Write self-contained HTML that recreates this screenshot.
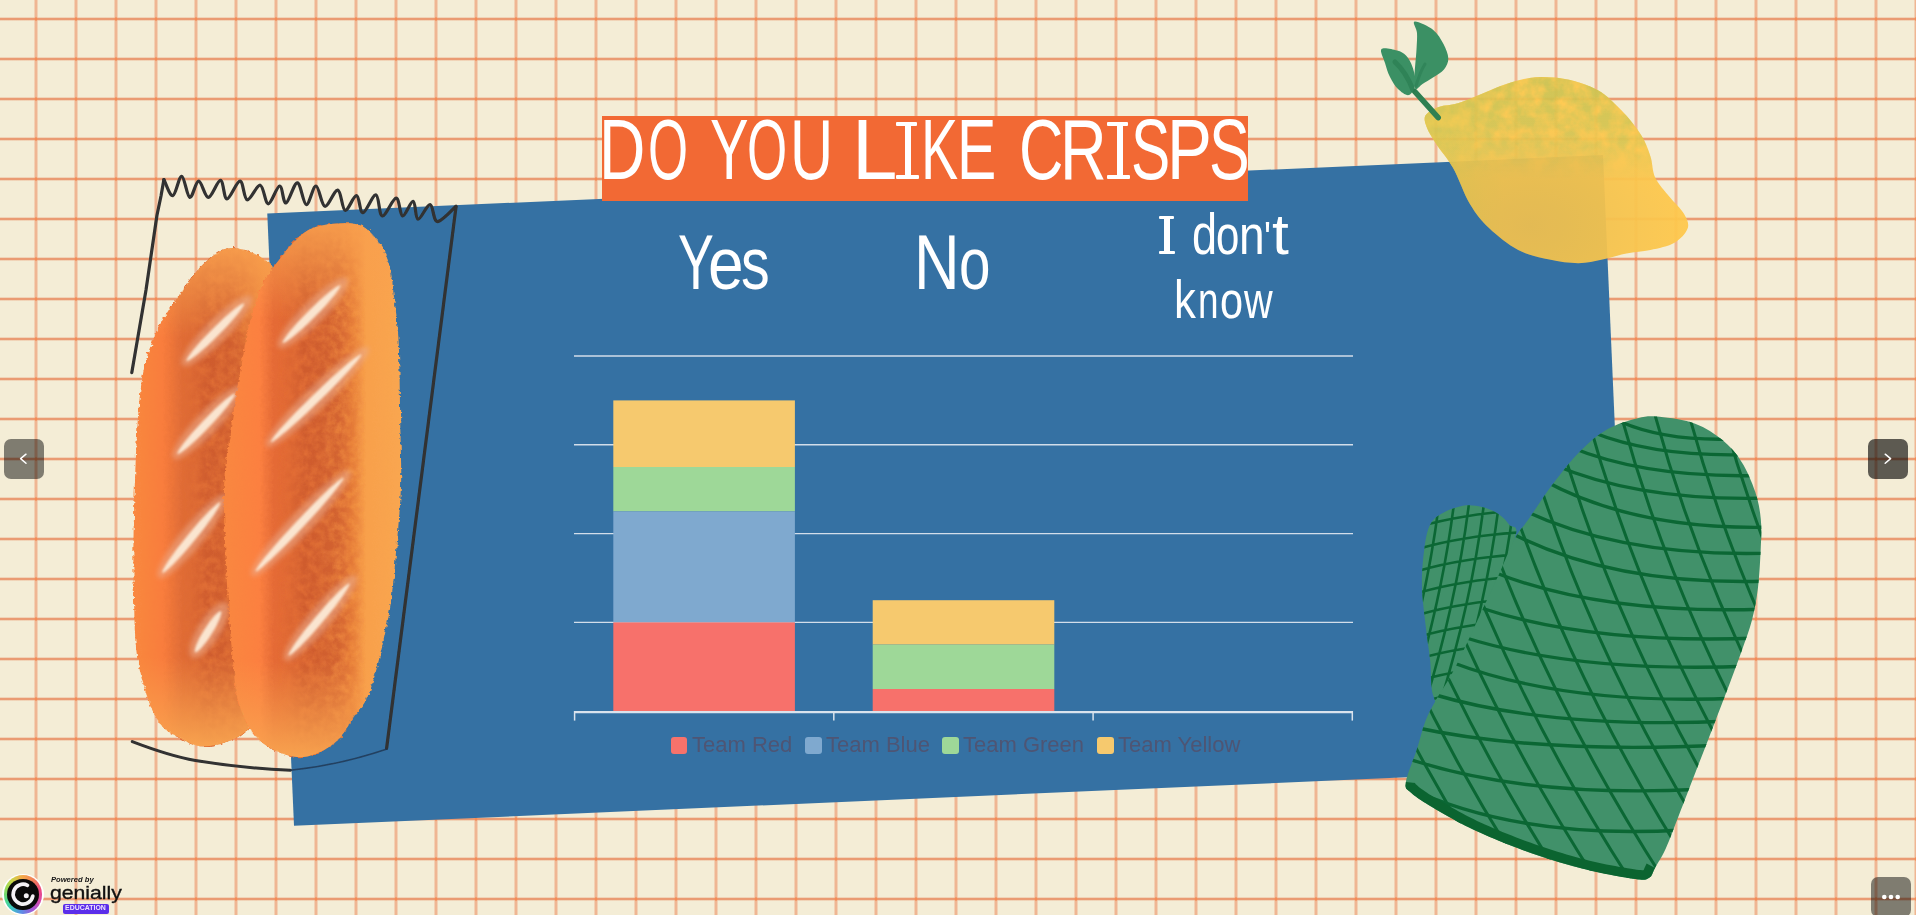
<!DOCTYPE html>
<html><head><meta charset="utf-8">
<style>
*{margin:0;padding:0;box-sizing:border-box}
html,body{width:1916px;height:915px;overflow:hidden}
body{position:relative;font-family:"Liberation Sans",sans-serif;background-color:#F4EDD6;
background-image:
radial-gradient(circle at 36px 19px, #F58B55 0, #F58B55 1.3px, rgba(245,139,85,0) 2px),
linear-gradient(to right, rgba(239,182,147,0) 34px, rgba(239,182,147,.5) 34px, rgba(239,182,147,.5) 35px, #EFB693 35px, #EFB693 37px, rgba(239,182,147,.5) 37px, rgba(239,182,147,.5) 38px, rgba(239,182,147,0) 38px),
linear-gradient(to bottom, rgba(234,155,115,0) 17px, rgba(234,155,115,.3) 17px, rgba(234,155,115,.3) 18px, #EA9B73 18px, #EA9B73 20px, rgba(234,155,115,.3) 20px, rgba(234,155,115,.3) 21px, rgba(234,155,115,0) 21px);
background-size:40px 40px, 40px 100%, 100% 40px;}
.abs{position:absolute}
#panel{position:absolute;left:279.7px;top:183.9px;width:1336.6px;height:612.8px;background:#3571A3;transform:rotate(-2.5deg);transform-origin:50% 50%}
#title{position:absolute;left:602px;top:116px;width:646px;height:85px;background:#F26934}
#title span{position:absolute;left:-2.5px;top:-8.5px;color:#fff;font-size:84.7px;line-height:84.7px;white-space:nowrap;transform-origin:0 50%;transform:scaleX(.741)}
.cat{position:absolute;color:#fff;white-space:nowrap;transform-origin:0 0;line-height:1}
.gl{position:absolute;left:574px;width:779px;height:1px;background:#C9D3DE}
.bar{position:absolute}
.leg{position:absolute;top:737px;width:16.5px;height:16.5px;border-radius:3px}
.lt{position:absolute;top:733.6px;font-size:22px;line-height:1;color:#4E5574;white-space:nowrap;transform-origin:0 18.6px;transform:scaleY(1.04)}
.lt1{position:absolute;white-space:nowrap}
.btn{position:absolute;width:40px;height:40px;border-radius:7px}
</style></head>
<body>
<div id="panel"></div>
<svg class="abs" style="left:0;top:0" width="1916" height="915" viewBox="0 0 1916 915">
<defs>
<filter id="rough" x="-10%" y="-10%" width="120%" height="120%">
<feTurbulence type="fractalNoise" baseFrequency="0.25" numOctaves="2" seed="3" result="n"/>
<feDisplacementMap in="SourceGraphic" in2="n" scale="5" xChannelSelector="R" yChannelSelector="G"/>
</filter>
<filter id="blur1" x="-20%" y="-50%" width="140%" height="200%"><feGaussianBlur stdDeviation="2.5"/></filter>
<filter id="blur05" x="-20%" y="-50%" width="140%" height="200%"><feGaussianBlur stdDeviation="0.8"/></filter>
<filter id="rough1" x="-10%" y="-10%" width="120%" height="120%">
<feTurbulence type="fractalNoise" baseFrequency="0.6" numOctaves="1" seed="5" result="n"/>
<feDisplacementMap in="SourceGraphic" in2="n" scale="1.5" xChannelSelector="R" yChannelSelector="G"/>
</filter>
<filter id="mottleB" x="0" y="0" width="100%" height="100%">
<feTurbulence type="fractalNoise" baseFrequency="0.12" numOctaves="4" seed="21" result="n"/>
<feColorMatrix in="n" type="matrix" values="0 0 0 0 0  0 0 0 0 0  0 0 0 0 0  0 0 0 -2.2 1.7" result="a"/>
<feComposite in="SourceGraphic" in2="a" operator="in"/>
</filter>
<filter id="mottle" x="0" y="0" width="100%" height="100%">
<feTurbulence type="fractalNoise" baseFrequency="0.07" numOctaves="4" seed="11" result="n"/>
<feColorMatrix in="n" type="matrix" values="0 0 0 0 0  0 0 0 0 0  0 0 0 0 0  0 0 0 -2 1.6" result="a"/>
<feComposite in="SourceGraphic" in2="a" operator="in"/>
</filter>
<linearGradient id="gBreadF" x1="0" y1="0" x2="1" y2="0">
<stop offset="0" stop-color="#F9873F"/><stop offset=".2" stop-color="#FC8040"/>
<stop offset=".28" stop-color="#E56B36"/><stop offset=".55" stop-color="#DE6E36"/>
<stop offset=".72" stop-color="#EE8A3E"/><stop offset=".8" stop-color="#F8A04B"/><stop offset="1" stop-color="#F9A650"/>
</linearGradient>
<linearGradient id="gBreadB" x1="0" y1="0" x2="1" y2="0">
<stop offset="0" stop-color="#F9883F"/><stop offset=".18" stop-color="#F97D3C"/>
<stop offset=".3" stop-color="#E06C36"/><stop offset=".6" stop-color="#DE6E36"/>
<stop offset=".8" stop-color="#EE8A3E"/><stop offset="1" stop-color="#F7A04E"/>
</linearGradient>
<linearGradient id="gMott" x1="0" y1="0" x2="1" y2="0">
<stop offset="0" stop-color="#D8602F" stop-opacity="0"/><stop offset=".3" stop-color="#D8602F" stop-opacity="0"/>
<stop offset=".45" stop-color="#C9562C"/><stop offset=".65" stop-color="#CC5A2D"/><stop offset=".8" stop-color="#D8602F" stop-opacity="0"/>
</linearGradient>
<linearGradient id="gEnd" x1="0" y1="0" x2="0" y2="1">
<stop offset="0" stop-color="#F9A04E" stop-opacity=".9"/><stop offset=".18" stop-color="#F9A04E" stop-opacity="0"/>
<stop offset=".82" stop-color="#F9A04E" stop-opacity="0"/><stop offset="1" stop-color="#F9A550" stop-opacity=".95"/>
</linearGradient>
<radialGradient id="gSlash" cx=".5" cy=".5" r=".5">
<stop offset="0" stop-color="#FBE9D6"/><stop offset=".45" stop-color="#F3D2BC"/><stop offset="1" stop-color="#E9A787" stop-opacity="0"/>
</radialGradient>
<linearGradient id="gLemTop" x1="0" y1="0" x2="0" y2="1">
<stop offset="0" stop-color="#CCC24F"/><stop offset=".35" stop-color="#D3C552" stop-opacity=".85"/><stop offset=".55" stop-color="#D8C655" stop-opacity="0"/>
</linearGradient>
<radialGradient id="gLemShade" cx=".4" cy=".8" r=".6">
<stop offset="0" stop-color="#C2A85A" stop-opacity=".28"/><stop offset="1" stop-color="#B8A65A" stop-opacity="0"/>
</radialGradient>
<linearGradient id="gLemLeft" x1="0" y1="0" x2="1" y2="0">
<stop offset="0" stop-color="#E0C84C" stop-opacity=".8"/><stop offset=".3" stop-color="#E0C84C" stop-opacity="0"/>
</linearGradient>
<clipPath id="cHand"><path d="M1514.8 538.5 C1519.5 529.7 1522.1 528.4 1528.5 519.3 C1534.9 510.2 1544.3 495.2 1553.0 483.8 C1561.7 472.4 1571.3 460.1 1580.4 451.0 C1589.5 441.9 1598.1 434.6 1607.7 429.1 C1617.3 423.6 1629.2 420.2 1637.8 418.2 C1646.4 416.1 1650.0 415.9 1659.6 416.8 C1669.2 417.7 1684.7 419.8 1695.2 423.7 C1705.7 427.6 1714.8 433.7 1722.5 440.1 C1730.2 446.5 1736.1 453.2 1741.6 461.9 C1747.1 470.5 1752.1 482.4 1755.3 492.0 C1758.5 501.6 1759.9 510.2 1760.8 519.3 C1761.7 528.4 1761.3 535.3 1760.8 546.7 C1760.3 558.1 1759.5 575.4 1758.0 587.6 C1756.5 599.8 1754.7 609.6 1752.0 620.0 C1749.3 630.4 1745.5 640.0 1742.0 650.0 C1738.5 660.0 1735.5 668.0 1731.0 680.0 C1726.5 692.0 1720.8 706.8 1715.0 722.0 C1709.2 737.2 1702.0 755.5 1696.0 771.0 C1690.0 786.5 1684.0 802.2 1679.0 815.0 C1674.0 827.8 1670.0 839.2 1666.0 848.0 C1662.0 856.8 1657.8 863.0 1655.0 868.0 C1652.2 873.0 1652.5 875.9 1649.2 877.8 C1646.0 879.6 1646.0 880.5 1635.5 879.1 C1625.0 877.7 1603.6 873.9 1586.3 869.6 C1569.0 865.3 1549.8 859.6 1531.6 853.2 C1513.4 846.8 1492.9 838.6 1477.0 831.3 C1461.1 824.0 1446.9 815.8 1436.0 809.4 C1425.1 803.0 1416.4 797.5 1411.4 793.0 C1406.4 788.5 1405.0 789.4 1405.9 782.1 C1406.8 774.8 1413.7 759.3 1416.9 749.3 C1420.1 739.3 1421.9 730.2 1425.1 722.0 C1428.3 713.8 1431.0 709.0 1436.0 700.0 C1441.0 691.0 1447.7 682.2 1455.0 668.0 C1462.3 653.8 1472.5 631.0 1480.0 615.0 C1487.5 599.0 1494.2 584.8 1500.0 572.0 C1505.8 559.2 1510.0 547.3 1514.8 538.5Z"/></clipPath>
<clipPath id="cThumb"><path d="M1514.8 538.5 C1519.7 522.6 1512.0 528.9 1509.3 524.8 C1506.6 520.7 1503.0 516.9 1498.4 513.9 C1493.9 510.9 1487.9 508.4 1482.0 507.0 C1476.1 505.6 1469.7 504.6 1462.9 505.7 C1456.1 506.8 1446.5 510.7 1441.0 513.9 C1435.5 517.1 1432.8 519.3 1430.1 524.8 C1427.4 530.3 1426.0 536.7 1424.6 546.7 C1423.2 556.7 1421.7 571.2 1421.9 584.9 C1422.1 598.5 1424.6 616.1 1426.0 628.6 C1427.4 641.1 1428.9 648.9 1430.1 660.0 C1431.3 671.1 1430.5 688.3 1433.0 695.0 C1435.5 701.7 1437.2 712.5 1445.0 700.0 C1452.8 687.5 1468.4 646.9 1480.0 620.0 C1491.6 593.1 1509.9 554.4 1514.8 538.5Z"/></clipPath>
</defs>

<g>
<path d="M233.2 248.0 C243.4 248.5 259.5 254.3 269.0 263.0 C278.5 271.7 285.7 277.2 290.0 300.0 C294.3 322.8 294.7 366.7 295.0 400.0 C295.3 433.3 293.7 466.7 292.0 500.0 C290.3 533.3 289.5 566.7 285.0 600.0 C280.5 633.3 272.1 677.7 265.0 700.0 C257.9 722.3 252.3 726.3 242.4 734.0 C232.5 741.7 216.1 745.6 205.7 746.3 C195.3 747.0 188.2 742.6 180.0 738.0 C171.8 733.4 163.6 731.2 156.7 718.8 C149.8 706.4 142.2 683.5 138.4 663.7 C134.6 643.9 134.7 624.7 134.0 600.0 C133.3 575.3 133.0 549.8 134.0 515.6 C135.0 481.4 136.5 425.1 140.0 395.0 C143.5 364.9 147.5 353.0 155.0 335.0 C162.5 317.0 176.2 299.5 185.0 287.0 C193.8 274.5 200.0 266.5 208.0 260.0 C216.0 253.5 223.0 247.5 233.2 248.0Z" fill="url(#gBreadB)" filter="url(#rough)"/>
<path d="M233.2 248.0 C243.4 248.5 259.5 254.3 269.0 263.0 C278.5 271.7 285.7 277.2 290.0 300.0 C294.3 322.8 294.7 366.7 295.0 400.0 C295.3 433.3 293.7 466.7 292.0 500.0 C290.3 533.3 289.5 566.7 285.0 600.0 C280.5 633.3 272.1 677.7 265.0 700.0 C257.9 722.3 252.3 726.3 242.4 734.0 C232.5 741.7 216.1 745.6 205.7 746.3 C195.3 747.0 188.2 742.6 180.0 738.0 C171.8 733.4 163.6 731.2 156.7 718.8 C149.8 706.4 142.2 683.5 138.4 663.7 C134.6 643.9 134.7 624.7 134.0 600.0 C133.3 575.3 133.0 549.8 134.0 515.6 C135.0 481.4 136.5 425.1 140.0 395.0 C143.5 364.9 147.5 353.0 155.0 335.0 C162.5 317.0 176.2 299.5 185.0 287.0 C193.8 274.5 200.0 266.5 208.0 260.0 C216.0 253.5 223.0 247.5 233.2 248.0Z" fill="url(#gMott)" opacity=".7" filter="url(#mottleB)"/>
<path d="M233.2 248.0 C243.4 248.5 259.5 254.3 269.0 263.0 C278.5 271.7 285.7 277.2 290.0 300.0 C294.3 322.8 294.7 366.7 295.0 400.0 C295.3 433.3 293.7 466.7 292.0 500.0 C290.3 533.3 289.5 566.7 285.0 600.0 C280.5 633.3 272.1 677.7 265.0 700.0 C257.9 722.3 252.3 726.3 242.4 734.0 C232.5 741.7 216.1 745.6 205.7 746.3 C195.3 747.0 188.2 742.6 180.0 738.0 C171.8 733.4 163.6 731.2 156.7 718.8 C149.8 706.4 142.2 683.5 138.4 663.7 C134.6 643.9 134.7 624.7 134.0 600.0 C133.3 575.3 133.0 549.8 134.0 515.6 C135.0 481.4 136.5 425.1 140.0 395.0 C143.5 364.9 147.5 353.0 155.0 335.0 C162.5 317.0 176.2 299.5 185.0 287.0 C193.8 274.5 200.0 266.5 208.0 260.0 C216.0 253.5 223.0 247.5 233.2 248.0Z" fill="url(#gEnd)"/>
</g>
<g transform="translate(216.7 330.8) rotate(-45.0)"><ellipse rx="48.7" ry="11" fill="#ECAE90" opacity=".55" filter="url(#blur1)"/><ellipse cx="-2" rx="40.7" ry="4.2" fill="#FCEAD6" opacity=".95" filter="url(#blur05)"/></g>
<g transform="translate(207.6 422.4) rotate(-46.3)"><ellipse rx="49.7" ry="11" fill="#ECAE90" opacity=".55" filter="url(#blur1)"/><ellipse cx="-2" rx="41.7" ry="4.2" fill="#FCEAD6" opacity=".95" filter="url(#blur05)"/></g>
<g transform="translate(192.6 536.0) rotate(-50.6)"><ellipse rx="53.7" ry="11" fill="#ECAE90" opacity=".55" filter="url(#blur1)"/><ellipse cx="-2" rx="45.7" ry="4.2" fill="#FCEAD6" opacity=".95" filter="url(#blur05)"/></g>
<g transform="translate(209.1 630.0) rotate(-57.9)"><ellipse rx="32.3" ry="11" fill="#ECAE90" opacity=".55" filter="url(#blur1)"/><ellipse cx="-2" rx="24.3" ry="4.2" fill="#FCEAD6" opacity=".95" filter="url(#blur05)"/></g>
<g>
<path d="M334.3 223.7 C343.0 223.2 354.2 222.5 361.8 226.0 C369.4 229.5 375.6 237.8 380.2 244.5 C384.8 251.2 387.1 257.3 389.4 266.0 C391.7 274.7 392.5 283.8 394.0 296.5 C395.5 309.2 397.5 319.1 398.6 342.0 C399.7 364.9 400.1 410.1 400.5 434.0 C400.9 457.9 401.6 467.7 401.0 485.6 C400.4 503.5 398.9 520.2 397.0 541.2 C395.1 562.2 393.7 587.1 389.4 611.6 C385.1 636.1 377.1 670.1 371.0 688.0 C364.9 705.9 358.7 709.6 352.6 718.8 C346.5 728.0 342.5 736.8 334.3 743.2 C326.1 749.6 313.9 756.0 303.7 757.0 C293.5 758.0 281.7 753.7 273.0 749.4 C264.3 745.1 257.4 739.2 251.6 731.0 C245.8 722.8 241.1 711.2 238.0 700.0 C234.9 688.8 235.0 680.4 233.3 663.7 C231.6 647.0 229.6 628.1 228.0 600.0 C226.4 571.9 223.7 523.0 224.0 495.3 C224.3 467.6 226.4 459.5 230.0 434.0 C233.6 408.5 241.4 363.8 245.5 342.4 C249.6 321.0 251.6 315.9 254.7 305.7 C257.8 295.5 259.8 288.8 263.9 281.2 C268.0 273.6 274.6 265.9 279.2 259.8 C283.8 253.7 286.3 249.6 291.4 244.5 C296.5 239.4 302.6 232.7 309.8 229.2 C317.0 225.7 325.6 224.2 334.3 223.7Z" fill="url(#gBreadF)" filter="url(#rough)"/>
<path d="M334.3 223.7 C343.0 223.2 354.2 222.5 361.8 226.0 C369.4 229.5 375.6 237.8 380.2 244.5 C384.8 251.2 387.1 257.3 389.4 266.0 C391.7 274.7 392.5 283.8 394.0 296.5 C395.5 309.2 397.5 319.1 398.6 342.0 C399.7 364.9 400.1 410.1 400.5 434.0 C400.9 457.9 401.6 467.7 401.0 485.6 C400.4 503.5 398.9 520.2 397.0 541.2 C395.1 562.2 393.7 587.1 389.4 611.6 C385.1 636.1 377.1 670.1 371.0 688.0 C364.9 705.9 358.7 709.6 352.6 718.8 C346.5 728.0 342.5 736.8 334.3 743.2 C326.1 749.6 313.9 756.0 303.7 757.0 C293.5 758.0 281.7 753.7 273.0 749.4 C264.3 745.1 257.4 739.2 251.6 731.0 C245.8 722.8 241.1 711.2 238.0 700.0 C234.9 688.8 235.0 680.4 233.3 663.7 C231.6 647.0 229.6 628.1 228.0 600.0 C226.4 571.9 223.7 523.0 224.0 495.3 C224.3 467.6 226.4 459.5 230.0 434.0 C233.6 408.5 241.4 363.8 245.5 342.4 C249.6 321.0 251.6 315.9 254.7 305.7 C257.8 295.5 259.8 288.8 263.9 281.2 C268.0 273.6 274.6 265.9 279.2 259.8 C283.8 253.7 286.3 249.6 291.4 244.5 C296.5 239.4 302.6 232.7 309.8 229.2 C317.0 225.7 325.6 224.2 334.3 223.7Z" fill="url(#gMott)" opacity=".7" filter="url(#mottleB)"/>
<path d="M334.3 223.7 C343.0 223.2 354.2 222.5 361.8 226.0 C369.4 229.5 375.6 237.8 380.2 244.5 C384.8 251.2 387.1 257.3 389.4 266.0 C391.7 274.7 392.5 283.8 394.0 296.5 C395.5 309.2 397.5 319.1 398.6 342.0 C399.7 364.9 400.1 410.1 400.5 434.0 C400.9 457.9 401.6 467.7 401.0 485.6 C400.4 503.5 398.9 520.2 397.0 541.2 C395.1 562.2 393.7 587.1 389.4 611.6 C385.1 636.1 377.1 670.1 371.0 688.0 C364.9 705.9 358.7 709.6 352.6 718.8 C346.5 728.0 342.5 736.8 334.3 743.2 C326.1 749.6 313.9 756.0 303.7 757.0 C293.5 758.0 281.7 753.7 273.0 749.4 C264.3 745.1 257.4 739.2 251.6 731.0 C245.8 722.8 241.1 711.2 238.0 700.0 C234.9 688.8 235.0 680.4 233.3 663.7 C231.6 647.0 229.6 628.1 228.0 600.0 C226.4 571.9 223.7 523.0 224.0 495.3 C224.3 467.6 226.4 459.5 230.0 434.0 C233.6 408.5 241.4 363.8 245.5 342.4 C249.6 321.0 251.6 315.9 254.7 305.7 C257.8 295.5 259.8 288.8 263.9 281.2 C268.0 273.6 274.6 265.9 279.2 259.8 C283.8 253.7 286.3 249.6 291.4 244.5 C296.5 239.4 302.6 232.7 309.8 229.2 C317.0 225.7 325.6 224.2 334.3 223.7Z" fill="url(#gEnd)"/>
</g>
<g transform="translate(312.9 312.7) rotate(-45.0)"><ellipse rx="48.7" ry="11" fill="#ECAE90" opacity=".55" filter="url(#blur1)"/><ellipse cx="-2" rx="40.7" ry="4.2" fill="#FCEAD6" opacity=".95" filter="url(#blur05)"/></g>
<g transform="translate(317.4 396.9) rotate(-44.1)"><ellipse rx="71.0" ry="11" fill="#ECAE90" opacity=".55" filter="url(#blur1)"/><ellipse cx="-2" rx="63.0" ry="4.2" fill="#FCEAD6" opacity=".95" filter="url(#blur05)"/></g>
<g transform="translate(300.9 523.1) rotate(-46.8)"><ellipse rx="72.1" ry="11" fill="#ECAE90" opacity=".55" filter="url(#blur1)"/><ellipse cx="-2" rx="64.1" ry="4.2" fill="#FCEAD6" opacity=".95" filter="url(#blur05)"/></g>
<g transform="translate(320.4 617.9) rotate(-49.8)"><ellipse rx="55.2" ry="11" fill="#ECAE90" opacity=".55" filter="url(#blur1)"/><ellipse cx="-2" rx="47.2" ry="4.2" fill="#FCEAD6" opacity=".95" filter="url(#blur05)"/></g>

<g fill="none" stroke="#303030" stroke-linecap="round" stroke-linejoin="round" filter="url(#rough1)">
<path d="M131.8 372.6 L146.0 290.0 L157.0 215.0 L161.0 196.0 L163.9 179.6 " stroke-width="3.2"/>
<path d="M163.9 179.6 C165.4 182.3 169.8 196.2 172.8 195.7 C175.8 195.1 178.9 176.0 181.7 176.3 C184.5 176.6 187.0 196.6 189.8 197.4 C192.6 198.2 195.6 181.2 198.7 181.2 C201.8 181.2 204.8 197.5 208.4 197.4 C212.0 197.3 217.4 180.1 220.5 180.4 C223.6 180.7 223.8 198.9 227.0 199.0 C230.2 199.1 236.6 181.1 240.0 181.2 C243.4 181.3 243.8 199.1 247.2 199.8 C250.6 200.5 256.7 184.5 260.2 185.2 C263.7 185.9 265.1 203.7 268.3 203.8 C271.5 203.9 276.7 186.1 279.6 186.0 C282.6 185.9 283.0 203.5 286.0 203.0 C289.0 202.5 294.0 182.5 297.4 182.8 C300.8 183.1 303.2 204.1 306.3 204.6 C309.4 205.1 312.9 185.7 316.0 186.0 C319.1 186.3 321.3 205.6 324.9 206.3 C328.5 207.0 334.4 189.4 337.8 190.1 C341.2 190.8 342.0 209.4 345.1 210.3 C348.2 211.2 353.5 195.3 356.5 195.7 C359.5 196.1 359.7 212.8 362.9 212.7 C366.1 212.6 372.7 194.3 375.9 194.9 C379.1 195.5 378.9 215.4 382.3 216.0 C385.7 216.6 392.7 198.2 396.1 198.2 C399.5 198.2 399.8 215.5 402.6 216.0 C405.4 216.5 410.5 200.9 413.1 201.4 C415.7 201.9 415.2 218.7 418.0 219.2 C420.8 219.7 426.9 204.2 430.1 204.6 C433.3 205.0 433.1 221.3 437.4 221.6 C441.7 221.9 452.9 208.9 456.0 206.3" stroke-width="3.2"/>
<path d="M456 207 Q422 475 386.6 748.3" stroke-width="3.2"/>
<path d="M132.3 741.6 Q170 756 195.4 760.5 Q240 768 290.5 770.3" stroke-width="3"/>
<path d="M290.5 770.3 Q340 765 387 749" stroke-width="1.5" stroke="#1E3550" opacity=".8"/>
</g>
</svg>

<!-- chart -->
<svg class="abs" style="left:0;top:0" width="1916" height="915" viewBox="0 0 1916 915">
<g stroke="#D3DEEA" stroke-width="1.4">
<line x1="574" y1="356" x2="1353" y2="356"/><line x1="574" y1="444.8" x2="1353" y2="444.8"/>
<line x1="574" y1="533.6" x2="1353" y2="533.6"/><line x1="574" y1="622.4" x2="1353" y2="622.4"/>
</g>
<rect x="613.3" y="400.4" width="181.6" height="66.6" fill="#F6C96E"/>
<rect x="613.3" y="467" width="181.6" height="44.4" fill="#9ED898"/>
<rect x="613.3" y="511.4" width="181.6" height="111" fill="#7FA9CF"/>
<rect x="613.3" y="622.4" width="181.6" height="88.8" fill="#F7716B"/>
<rect x="872.7" y="600.2" width="181.6" height="44.4" fill="#F6C96E"/>
<rect x="872.7" y="644.6" width="181.6" height="44.4" fill="#9ED898"/>
<rect x="872.7" y="689" width="181.6" height="22.2" fill="#F7716B"/>
<g stroke="#DAE3ED">
<line x1="574" y1="712.2" x2="1353" y2="712.2" stroke-width="2.2"/>
<line x1="574.6" y1="711" x2="574.6" y2="720.6" stroke-width="1.5"/>
<line x1="833.8" y1="711" x2="833.8" y2="720.6" stroke-width="1.5"/>
<line x1="1093.1" y1="711" x2="1093.1" y2="720.6" stroke-width="1.5"/>
<line x1="1352.3" y1="711" x2="1352.3" y2="720.6" stroke-width="1.5"/>
</g>
</svg>

<div class="leg" style="left:670.5px;background:#F7726B"></div>
<div class="lt" style="left:692px">Team Red</div>
<div class="leg" style="left:805px;background:#7FA9CF"></div>
<div class="lt" style="left:826px">Team Blue</div>
<div class="leg" style="left:942px;background:#9ED898"></div>
<div class="lt" style="left:963px">Team Green</div>
<div class="leg" style="left:1097px;background:#F6C96E"></div>
<div class="lt" style="left:1118px">Team Yellow</div>

<!-- categories -->
<span class="lt1" style="left:678.32px;top:223.17px;font-family:'Liberation Sans',serif;font-size:78px;line-height:78px;color:#fff;transform-origin:0 66.03px;transform:scale(0.6894,1.0000)">Y</span>
<span class="lt1" style="left:707.81px;top:223.17px;font-family:'Liberation Sans',serif;font-size:78px;line-height:78px;color:#fff;transform-origin:0 66.03px;transform:scale(0.8211,0.9532)">e</span>
<span class="lt1" style="left:740.69px;top:223.17px;font-family:'Liberation Sans',serif;font-size:78px;line-height:78px;color:#fff;transform-origin:0 66.03px;transform:scale(0.7351,0.9532)">s</span>
<span class="lt1" style="left:913.72px;top:223.17px;font-family:'Liberation Sans',serif;font-size:78px;line-height:78px;color:#fff;transform-origin:0 66.03px;transform:scale(0.8096,1.0000)">N</span>
<span class="lt1" style="left:958.72px;top:223.17px;font-family:'Liberation Sans',serif;font-size:78px;line-height:78px;color:#fff;transform-origin:0 66.03px;transform:scale(0.7252,0.9532)">o</span><div class="abs" style="left:1159.2px;top:216.1px;width:14.40px;height:3.4px;background:#fff;border-radius:1px"></div>
<div class="abs" style="left:1164.4px;top:216.1px;width:5.30px;height:38.10px;background:#fff"></div>
<div class="abs" style="left:1159.2px;top:250.60px;width:15.70px;height:3.6px;background:#fff;border-radius:1px"></div>
<span class="lt1" style="left:1192.01px;top:205.30px;font-family:'Liberation Sans',serif;font-size:58px;line-height:58px;color:#fff;transform-origin:0 49.10px;transform:scale(0.7778,1.0000)">d</span>
<span class="lt1" style="left:1216.24px;top:205.30px;font-family:'Liberation Sans',serif;font-size:58px;line-height:58px;color:#fff;transform-origin:0 49.10px;transform:scale(0.7233,0.9486)">o</span>
<span class="lt1" style="left:1238.76px;top:205.30px;font-family:'Liberation Sans',serif;font-size:58px;line-height:58px;color:#fff;transform-origin:0 49.10px;transform:scale(0.7951,0.9486)">n</span>
<span class="lt1" style="left:1263.53px;top:205.30px;font-family:'Liberation Sans',serif;font-size:58px;line-height:58px;color:#fff;transform-origin:0 49.10px;transform:scale(0.6322,0.8000)">&#39;</span>
<span class="lt1" style="left:1271.59px;top:205.30px;font-family:'Liberation Sans',serif;font-size:58px;line-height:58px;color:#fff;transform-origin:0 49.10px;transform:scale(1.0439,1.0000)">t</span>
<span class="lt1" style="left:1173.97px;top:272.74px;font-family:'Liberation Sans',serif;font-size:53px;line-height:53px;color:#fff;transform-origin:0 44.86px;transform:scale(0.8260,1.0000)">k</span>
<span class="lt1" style="left:1198.06px;top:272.74px;font-family:'Liberation Sans',serif;font-size:53px;line-height:53px;color:#fff;transform-origin:0 44.86px;transform:scale(0.6970,0.9644)">n</span>
<span class="lt1" style="left:1219.76px;top:272.74px;font-family:'Liberation Sans',serif;font-size:53px;line-height:53px;color:#fff;transform-origin:0 44.86px;transform:scale(0.7835,0.9644)">o</span>
<span class="lt1" style="left:1244.44px;top:272.74px;font-family:'Liberation Sans',serif;font-size:53px;line-height:53px;color:#fff;transform-origin:0 44.86px;transform:scale(0.7495,0.9644)">w</span>

<div id="title"></div>
<span class="lt1" style="left:599.24px;top:107.50px;font-family:'Liberation Sans',serif;font-size:84.7px;line-height:84.7px;color:#fff;transform-origin:0 71.70px;transform:scale(0.7578,1.0000)">D</span>
<span class="lt1" style="left:647.58px;top:107.50px;font-family:'Liberation Sans',serif;font-size:84.7px;line-height:84.7px;color:#fff;transform-origin:0 71.70px;transform:scale(0.6085,1.0000)">O</span>
<span class="lt1" style="left:709.73px;top:107.50px;font-family:'Liberation Sans',serif;font-size:84.7px;line-height:84.7px;color:#fff;transform-origin:0 71.70px;transform:scale(0.6822,1.0000)">Y</span>
<span class="lt1" style="left:747.27px;top:107.50px;font-family:'Liberation Sans',serif;font-size:84.7px;line-height:84.7px;color:#fff;transform-origin:0 71.70px;transform:scale(0.6102,1.0000)">O</span>
<span class="lt1" style="left:789.90px;top:107.50px;font-family:'Liberation Sans',serif;font-size:84.7px;line-height:84.7px;color:#fff;transform-origin:0 71.70px;transform:scale(0.7046,1.0000)">U</span>
<span class="lt1" style="left:851.61px;top:107.50px;font-family:'Liberation Sans',serif;font-size:84.7px;line-height:84.7px;color:#fff;transform-origin:0 71.70px;transform:scale(0.9638,1.0000)">L</span>
<span class="lt1" style="left:920.93px;top:107.50px;font-family:'Liberation Sans',serif;font-size:84.7px;line-height:84.7px;color:#fff;transform-origin:0 71.70px;transform:scale(0.6573,1.0000)">K</span>
<span class="lt1" style="left:957.27px;top:107.50px;font-family:'Liberation Sans',serif;font-size:84.7px;line-height:84.7px;color:#fff;transform-origin:0 71.70px;transform:scale(0.6949,1.0000)">E</span>
<span class="lt1" style="left:1019.37px;top:107.50px;font-family:'Liberation Sans',serif;font-size:84.7px;line-height:84.7px;color:#fff;transform-origin:0 71.70px;transform:scale(0.7255,1.0000)">C</span>
<span class="lt1" style="left:1060.40px;top:107.50px;font-family:'Liberation Sans',serif;font-size:84.7px;line-height:84.7px;color:#fff;transform-origin:0 71.70px;transform:scale(0.7625,1.0000)">R</span>
<span class="lt1" style="left:1130.70px;top:107.50px;font-family:'Liberation Sans',serif;font-size:84.7px;line-height:84.7px;color:#fff;transform-origin:0 71.70px;transform:scale(0.6940,1.0000)">S</span>
<span class="lt1" style="left:1166.68px;top:107.50px;font-family:'Liberation Sans',serif;font-size:84.7px;line-height:84.7px;color:#fff;transform-origin:0 71.70px;transform:scale(0.7945,1.0000)">P</span>
<span class="lt1" style="left:1208.89px;top:107.50px;font-family:'Liberation Sans',serif;font-size:84.7px;line-height:84.7px;color:#fff;transform-origin:0 71.70px;transform:scale(0.7207,1.0000)">S</span><div class="abs" style="left:895.7px;top:121.5px;width:21.10px;height:4.8px;background:#fff;border-radius:1px"></div>
<div class="abs" style="left:904.9px;top:121.5px;width:5.80px;height:57.70px;background:#fff"></div>
<div class="abs" style="left:895.7px;top:174.60px;width:23.80px;height:4.6px;background:#fff;border-radius:1px"></div><div class="abs" style="left:1107px;top:121.5px;width:20.70px;height:4.8px;background:#fff;border-radius:1px"></div>
<div class="abs" style="left:1116.5px;top:121.5px;width:6.20px;height:57.70px;background:#fff"></div>
<div class="abs" style="left:1106.5px;top:174.60px;width:23.80px;height:4.6px;background:#fff;border-radius:1px"></div>

<svg class="abs" style="left:0;top:0" width="1916" height="915" viewBox="0 0 1916 915">
<g opacity=".94">
<path d="M1425.6 115.3 C1427.6 111.9 1433.5 108.9 1438.9 106.9 C1444.3 104.9 1450.9 105.5 1458.1 103.3 C1465.3 101.1 1474.1 96.9 1482.1 93.7 C1490.1 90.5 1497.4 86.7 1506.2 84.0 C1515.0 81.3 1525.0 78.1 1535.0 77.3 C1545.0 76.5 1555.9 77.1 1566.3 79.2 C1576.7 81.3 1588.3 84.8 1597.5 90.0 C1606.7 95.2 1614.4 103.1 1621.6 110.5 C1628.8 117.9 1636.0 126.9 1640.8 134.5 C1645.6 142.1 1648.0 149.0 1650.4 156.2 C1652.8 163.4 1652.1 171.0 1655.3 177.8 C1658.5 184.6 1664.9 191.0 1669.7 197.0 C1674.5 203.0 1681.1 208.7 1684.1 213.9 C1687.1 219.1 1689.3 223.5 1687.7 228.3 C1686.1 233.1 1680.7 239.1 1674.5 242.7 C1668.3 246.3 1658.4 248.2 1650.4 250.0 C1642.4 251.8 1634.4 252.0 1626.4 253.6 C1618.4 255.2 1610.4 258.0 1602.4 259.6 C1594.4 261.2 1587.1 263.2 1578.3 263.2 C1569.5 263.2 1559.5 261.8 1549.5 259.6 C1539.5 257.4 1528.2 255.2 1518.2 250.0 C1508.2 244.8 1497.3 235.9 1489.3 228.3 C1481.3 220.7 1476.1 214.3 1470.1 204.3 C1464.1 194.3 1458.9 178.2 1453.3 168.2 C1447.7 158.2 1440.8 151.0 1436.4 144.2 C1432.0 137.4 1428.6 132.1 1426.8 127.3 C1425.0 122.5 1423.6 118.7 1425.6 115.3Z" fill="#FFC84C"/>
<path d="M1425.6 115.3 C1427.6 111.9 1433.5 108.9 1438.9 106.9 C1444.3 104.9 1450.9 105.5 1458.1 103.3 C1465.3 101.1 1474.1 96.9 1482.1 93.7 C1490.1 90.5 1497.4 86.7 1506.2 84.0 C1515.0 81.3 1525.0 78.1 1535.0 77.3 C1545.0 76.5 1555.9 77.1 1566.3 79.2 C1576.7 81.3 1588.3 84.8 1597.5 90.0 C1606.7 95.2 1614.4 103.1 1621.6 110.5 C1628.8 117.9 1636.0 126.9 1640.8 134.5 C1645.6 142.1 1648.0 149.0 1650.4 156.2 C1652.8 163.4 1652.1 171.0 1655.3 177.8 C1658.5 184.6 1664.9 191.0 1669.7 197.0 C1674.5 203.0 1681.1 208.7 1684.1 213.9 C1687.1 219.1 1689.3 223.5 1687.7 228.3 C1686.1 233.1 1680.7 239.1 1674.5 242.7 C1668.3 246.3 1658.4 248.2 1650.4 250.0 C1642.4 251.8 1634.4 252.0 1626.4 253.6 C1618.4 255.2 1610.4 258.0 1602.4 259.6 C1594.4 261.2 1587.1 263.2 1578.3 263.2 C1569.5 263.2 1559.5 261.8 1549.5 259.6 C1539.5 257.4 1528.2 255.2 1518.2 250.0 C1508.2 244.8 1497.3 235.9 1489.3 228.3 C1481.3 220.7 1476.1 214.3 1470.1 204.3 C1464.1 194.3 1458.9 178.2 1453.3 168.2 C1447.7 158.2 1440.8 151.0 1436.4 144.2 C1432.0 137.4 1428.6 132.1 1426.8 127.3 C1425.0 122.5 1423.6 118.7 1425.6 115.3Z" fill="url(#gLemLeft)"/>
<path d="M1425.6 115.3 C1427.6 111.9 1433.5 108.9 1438.9 106.9 C1444.3 104.9 1450.9 105.5 1458.1 103.3 C1465.3 101.1 1474.1 96.9 1482.1 93.7 C1490.1 90.5 1497.4 86.7 1506.2 84.0 C1515.0 81.3 1525.0 78.1 1535.0 77.3 C1545.0 76.5 1555.9 77.1 1566.3 79.2 C1576.7 81.3 1588.3 84.8 1597.5 90.0 C1606.7 95.2 1614.4 103.1 1621.6 110.5 C1628.8 117.9 1636.0 126.9 1640.8 134.5 C1645.6 142.1 1648.0 149.0 1650.4 156.2 C1652.8 163.4 1652.1 171.0 1655.3 177.8 C1658.5 184.6 1664.9 191.0 1669.7 197.0 C1674.5 203.0 1681.1 208.7 1684.1 213.9 C1687.1 219.1 1689.3 223.5 1687.7 228.3 C1686.1 233.1 1680.7 239.1 1674.5 242.7 C1668.3 246.3 1658.4 248.2 1650.4 250.0 C1642.4 251.8 1634.4 252.0 1626.4 253.6 C1618.4 255.2 1610.4 258.0 1602.4 259.6 C1594.4 261.2 1587.1 263.2 1578.3 263.2 C1569.5 263.2 1559.5 261.8 1549.5 259.6 C1539.5 257.4 1528.2 255.2 1518.2 250.0 C1508.2 244.8 1497.3 235.9 1489.3 228.3 C1481.3 220.7 1476.1 214.3 1470.1 204.3 C1464.1 194.3 1458.9 178.2 1453.3 168.2 C1447.7 158.2 1440.8 151.0 1436.4 144.2 C1432.0 137.4 1428.6 132.1 1426.8 127.3 C1425.0 122.5 1423.6 118.7 1425.6 115.3Z" fill="url(#gLemTop)" filter="url(#mottle)"/>
<path d="M1425.6 115.3 C1427.6 111.9 1433.5 108.9 1438.9 106.9 C1444.3 104.9 1450.9 105.5 1458.1 103.3 C1465.3 101.1 1474.1 96.9 1482.1 93.7 C1490.1 90.5 1497.4 86.7 1506.2 84.0 C1515.0 81.3 1525.0 78.1 1535.0 77.3 C1545.0 76.5 1555.9 77.1 1566.3 79.2 C1576.7 81.3 1588.3 84.8 1597.5 90.0 C1606.7 95.2 1614.4 103.1 1621.6 110.5 C1628.8 117.9 1636.0 126.9 1640.8 134.5 C1645.6 142.1 1648.0 149.0 1650.4 156.2 C1652.8 163.4 1652.1 171.0 1655.3 177.8 C1658.5 184.6 1664.9 191.0 1669.7 197.0 C1674.5 203.0 1681.1 208.7 1684.1 213.9 C1687.1 219.1 1689.3 223.5 1687.7 228.3 C1686.1 233.1 1680.7 239.1 1674.5 242.7 C1668.3 246.3 1658.4 248.2 1650.4 250.0 C1642.4 251.8 1634.4 252.0 1626.4 253.6 C1618.4 255.2 1610.4 258.0 1602.4 259.6 C1594.4 261.2 1587.1 263.2 1578.3 263.2 C1569.5 263.2 1559.5 261.8 1549.5 259.6 C1539.5 257.4 1528.2 255.2 1518.2 250.0 C1508.2 244.8 1497.3 235.9 1489.3 228.3 C1481.3 220.7 1476.1 214.3 1470.1 204.3 C1464.1 194.3 1458.9 178.2 1453.3 168.2 C1447.7 158.2 1440.8 151.0 1436.4 144.2 C1432.0 137.4 1428.6 132.1 1426.8 127.3 C1425.0 122.5 1423.6 118.7 1425.6 115.3Z" fill="url(#gLemShade)"/>
</g>
<path d="M1414.6 91.3 L1438.2 117.6" stroke="#2E8052" stroke-width="5.5" stroke-linecap="round"/>
<path d="M1414.6 21.5 C1417.3 20.9 1428.2 25.9 1433.0 29.7 C1437.8 33.5 1441.0 39.3 1443.5 44.1 C1446.0 48.9 1448.2 54.3 1448.3 58.5 C1448.4 62.7 1446.5 66.3 1444.0 69.5 C1441.5 72.7 1436.6 75.1 1433.0 77.5 C1429.4 79.9 1425.4 82.1 1422.5 84.0 C1419.6 85.9 1416.8 90.4 1415.5 89.0 C1414.2 87.6 1414.3 82.2 1414.5 75.6 C1414.7 69.0 1416.1 56.5 1416.5 49.4 C1416.9 42.3 1417.3 37.6 1417.0 33.0 C1416.7 28.4 1411.9 22.1 1414.6 21.5Z" fill="#3B9064"/>
<path d="M1381.5 49.0 C1383.5 46.9 1392.9 49.4 1397.0 50.5 C1401.1 51.6 1403.4 52.8 1406.0 55.5 C1408.6 58.2 1410.9 62.3 1412.5 67.0 C1414.1 71.7 1416.1 78.8 1415.5 83.5 C1414.9 88.2 1411.9 94.1 1409.0 95.0 C1406.1 95.9 1401.2 92.0 1398.0 89.0 C1394.8 86.0 1392.2 81.3 1390.0 77.0 C1387.8 72.7 1386.4 67.7 1385.0 63.0 C1383.6 58.3 1379.5 51.1 1381.5 49.0Z" fill="#3B9064"/>
<path d="M1395 62 Q1406 72 1413 90" stroke="#24764A" stroke-width="5" fill="none" opacity=".5" stroke-linecap="round"/>
<path d="M1416 86 Q1420 72 1425 64" stroke="#24764A" stroke-width="3" fill="none" opacity=".4" stroke-linecap="round"/>

<path d="M1514.8 538.5 C1519.7 522.6 1512.0 528.9 1509.3 524.8 C1506.6 520.7 1503.0 516.9 1498.4 513.9 C1493.9 510.9 1487.9 508.4 1482.0 507.0 C1476.1 505.6 1469.7 504.6 1462.9 505.7 C1456.1 506.8 1446.5 510.7 1441.0 513.9 C1435.5 517.1 1432.8 519.3 1430.1 524.8 C1427.4 530.3 1426.0 536.7 1424.6 546.7 C1423.2 556.7 1421.7 571.2 1421.9 584.9 C1422.1 598.5 1424.6 616.1 1426.0 628.6 C1427.4 641.1 1428.9 648.9 1430.1 660.0 C1431.3 671.1 1430.5 688.3 1433.0 695.0 C1435.5 701.7 1437.2 712.5 1445.0 700.0 C1452.8 687.5 1468.4 646.9 1480.0 620.0 C1491.6 593.1 1509.9 554.4 1514.8 538.5Z" fill="#41916A"/>
<g clip-path="url(#cThumb)"><path d="M1415 528.0 Q1460 514.0 1525 510.0 M1415 550.0 Q1460 536.0 1525 532.0 M1415 572.0 Q1460 558.0 1525 554.0 M1415 594.0 Q1460 580.0 1525 576.0 M1415 616.0 Q1460 602.0 1525 598.0 M1415 638.0 Q1460 624.0 1525 620.0 M1415 660.0 Q1460 646.0 1525 642.0 M1415 682.0 Q1460 668.0 1525 664.0 M1415 704.0 Q1460 690.0 1525 686.0 M1415 726.0 Q1460 712.0 1525 708.0 M1410.0 495 Q1398.0 600 1360.0 720 M1425.0 495 Q1413.0 600 1375.0 720 M1440.0 495 Q1428.0 600 1390.0 720 M1455.0 495 Q1443.0 600 1405.0 720 M1470.0 495 Q1458.0 600 1420.0 720 M1485.0 495 Q1473.0 600 1435.0 720 M1500.0 495 Q1488.0 600 1450.0 720 M1515.0 495 Q1503.0 600 1465.0 720 M1530.0 495 Q1518.0 600 1480.0 720" stroke="#0B6734" stroke-width="2.6" fill="none"/></g>
<path d="M1514.8 538.5 C1519.5 529.7 1522.1 528.4 1528.5 519.3 C1534.9 510.2 1544.3 495.2 1553.0 483.8 C1561.7 472.4 1571.3 460.1 1580.4 451.0 C1589.5 441.9 1598.1 434.6 1607.7 429.1 C1617.3 423.6 1629.2 420.2 1637.8 418.2 C1646.4 416.1 1650.0 415.9 1659.6 416.8 C1669.2 417.7 1684.7 419.8 1695.2 423.7 C1705.7 427.6 1714.8 433.7 1722.5 440.1 C1730.2 446.5 1736.1 453.2 1741.6 461.9 C1747.1 470.5 1752.1 482.4 1755.3 492.0 C1758.5 501.6 1759.9 510.2 1760.8 519.3 C1761.7 528.4 1761.3 535.3 1760.8 546.7 C1760.3 558.1 1759.5 575.4 1758.0 587.6 C1756.5 599.8 1754.7 609.6 1752.0 620.0 C1749.3 630.4 1745.5 640.0 1742.0 650.0 C1738.5 660.0 1735.5 668.0 1731.0 680.0 C1726.5 692.0 1720.8 706.8 1715.0 722.0 C1709.2 737.2 1702.0 755.5 1696.0 771.0 C1690.0 786.5 1684.0 802.2 1679.0 815.0 C1674.0 827.8 1670.0 839.2 1666.0 848.0 C1662.0 856.8 1657.8 863.0 1655.0 868.0 C1652.2 873.0 1652.5 875.9 1649.2 877.8 C1646.0 879.6 1646.0 880.5 1635.5 879.1 C1625.0 877.7 1603.6 873.9 1586.3 869.6 C1569.0 865.3 1549.8 859.6 1531.6 853.2 C1513.4 846.8 1492.9 838.6 1477.0 831.3 C1461.1 824.0 1446.9 815.8 1436.0 809.4 C1425.1 803.0 1416.4 797.5 1411.4 793.0 C1406.4 788.5 1405.0 789.4 1405.9 782.1 C1406.8 774.8 1413.7 759.3 1416.9 749.3 C1420.1 739.3 1421.9 730.2 1425.1 722.0 C1428.3 713.8 1431.0 709.0 1436.0 700.0 C1441.0 691.0 1447.7 682.2 1455.0 668.0 C1462.3 653.8 1472.5 631.0 1480.0 615.0 C1487.5 599.0 1494.2 584.8 1500.0 572.0 C1505.8 559.2 1510.0 547.3 1514.8 538.5Z" fill="#41916A"/>
<g clip-path="url(#cHand)"><path d="M1621.0 422.0 Q1665.0 441.0 1731.0 439.0 M1592.0 432.0 Q1654.4 457.2 1748.0 454.6 M1569.0 446.5 Q1646.2 478.6 1762.0 475.4 M1554.5 465.0 Q1640.9 501.8 1770.5 498.0 M1543.0 480.0 Q1636.5 531.4 1776.7 527.0 M1525.0 511.0 Q1624.8 558.0 1774.6 553.0 M1513.0 534.0 Q1616.8 586.6 1772.5 581.0 M1496.0 573.0 Q1604.4 615.2 1767.0 609.0 M1478.0 607.0 Q1590.8 644.8 1760.0 638.0 M1463.0 637.0 Q1578.6 673.4 1752.0 666.0 M1451.0 662.0 Q1566.6 706.0 1740.0 698.0 M1432.0 694.0 Q1552.0 729.6 1732.0 721.0 M1413.0 727.0 Q1537.4 754.2 1724.0 745.0 M1403.0 757.0 Q1523.8 798.8 1705.0 789.0 M1396.0 782.0 Q1510.8 840.4 1683.0 830.0" stroke="#0B6734" stroke-width="3.4" fill="none"/><path d="M1243.0 400 Q1308.0 650.0 1473.0 900 M1277.0 400 Q1342.0 650.0 1507.0 900 M1311.0 400 Q1376.0 650.0 1541.0 900 M1345.0 400 Q1410.0 650.0 1575.0 900 M1379.0 400 Q1444.0 650.0 1609.0 900 M1413.0 400 Q1478.0 650.0 1643.0 900 M1447.0 400 Q1512.0 650.0 1677.0 900 M1481.0 400 Q1546.0 650.0 1711.0 900 M1515.0 400 Q1580.0 650.0 1745.0 900 M1549.0 400 Q1614.0 650.0 1779.0 900 M1583.0 400 Q1648.0 650.0 1813.0 900 M1617.0 400 Q1682.0 650.0 1847.0 900 M1651.0 400 Q1716.0 650.0 1881.0 900 M1685.0 400 Q1750.0 650.0 1915.0 900 M1719.0 400 Q1784.0 650.0 1949.0 900" stroke="#0B6734" stroke-width="3" fill="none"/></g>
<path d="M1655.0 868.0 L1654.4 869.2 L1653.8 870.3 L1653.4 871.4 L1653.0 872.3 L1652.6 873.2 L1652.3 874.1 L1651.9 874.8 L1651.5 875.5 L1651.1 876.2 L1650.6 876.8 L1649.9 877.3 L1649.2 877.8 L1648.4 878.2 L1647.8 878.6 L1647.2 879.0 L1646.5 879.3 L1645.8 879.5 L1645.1 879.7 L1644.1 879.8 L1643.0 879.8 L1641.6 879.7 L1639.9 879.6 L1637.9 879.4 L1635.5 879.1 L1632.7 878.7 L1629.4 878.2 L1625.8 877.6 L1621.9 877.0 L1617.8 876.3 L1613.5 875.5 L1609.0 874.6 L1604.4 873.7 L1599.8 872.7 L1595.2 871.7 L1590.7 870.7 L1586.3 869.6 L1581.9 868.5 L1577.5 867.3 L1573.0 866.1 L1568.5 864.8 L1563.9 863.5 L1559.3 862.2 L1554.7 860.8 L1550.0 859.3 L1545.4 857.8 L1540.8 856.3 L1536.2 854.8 L1531.6 853.2 L1527.0 851.6 L1522.3 849.9 L1517.6 848.1 L1512.9 846.3 L1508.2 844.5 L1503.4 842.6 L1498.8 840.7 L1494.2 838.8 L1489.7 836.9 L1485.3 835.0 L1481.1 833.1 L1477.0 831.3 L1473.1 829.5 L1469.2 827.6 L1465.4 825.7 L1461.7 823.8 L1458.1 821.9 L1454.6 820.0 L1451.2 818.1 L1447.9 816.3 L1444.8 814.5 L1441.7 812.7 L1438.8 811.0 L1436.0 809.4 L1433.3 807.8 L1430.7 806.3 L1428.2 804.8 L1425.9 803.3 L1423.6 801.9 L1421.5 800.5 L1419.5 799.2 L1417.6 797.9 L1415.8 796.6 L1414.2 795.4 L1412.7 794.2 L1411.4 793.0 L1410.2 792.0 L1409.2 791.1 L1408.3 790.4 L1407.5 789.8 L1406.9 789.2 L1406.4 788.6 L1406.1 787.9 L1405.8 787.2 L1405.7 786.2 L1405.6 785.1 L1405.7 783.8 L1405.9 782.1 L1415.3 783.1 L1415.2 784.6 L1415.1 785.3 L1415.1 785.5 L1415.1 785.0 L1414.8 784.1 L1414.3 783.2 L1413.9 782.7 L1413.9 782.7 L1414.3 783.1 L1415.2 783.8 L1416.4 784.7 L1417.6 785.8 L1418.8 786.9 L1420.1 787.9 L1421.5 789.0 L1423.1 790.1 L1424.8 791.3 L1426.7 792.6 L1428.7 793.9 L1430.9 795.3 L1433.2 796.7 L1435.6 798.1 L1438.1 799.6 L1440.8 801.2 L1443.6 802.8 L1446.5 804.5 L1449.5 806.2 L1452.6 808.0 L1455.8 809.8 L1459.2 811.7 L1462.6 813.5 L1466.1 815.4 L1469.7 817.2 L1473.4 819.1 L1477.1 820.9 L1481.0 822.7 L1484.9 824.5 L1489.1 826.3 L1493.4 828.2 L1497.9 830.0 L1502.4 831.9 L1507.0 833.8 L1511.6 835.6 L1516.3 837.4 L1521.0 839.2 L1525.6 841.0 L1530.2 842.6 L1534.7 844.2 L1539.2 845.8 L1543.8 847.3 L1548.3 848.8 L1552.9 850.3 L1557.5 851.7 L1562.0 853.1 L1566.5 854.4 L1571.1 855.7 L1575.5 857.0 L1579.9 858.2 L1584.3 859.3 L1588.6 860.4 L1592.9 861.4 L1597.3 862.4 L1601.8 863.4 L1606.3 864.4 L1610.8 865.3 L1615.2 866.1 L1619.5 866.9 L1623.6 867.6 L1627.4 868.3 L1630.9 868.8 L1634.0 869.3 L1636.7 869.7 L1639.0 870.0 L1640.8 870.1 L1642.1 870.2 L1643.1 870.3 L1643.6 870.3 L1643.6 870.3 L1643.4 870.3 L1643.1 870.4 L1642.9 870.5 L1643.1 870.4 L1643.6 870.1 L1644.2 869.7 L1644.2 869.7 L1643.9 870.0 L1643.6 870.4 L1643.4 870.6 L1643.4 870.6 L1643.6 870.3 L1643.8 869.7 L1644.2 868.8 L1644.6 867.7 L1645.2 866.4 L1645.9 864.9 L1646.6 863.5Z" fill="#0B6430"/>
</svg>
<!-- nav -->
<div class="btn" style="left:4px;top:439px;background:rgba(0,0,0,.48)"></div>
<div class="btn" style="left:1868px;top:439px;background:rgba(0,0,0,.62)"></div>
<div class="btn" style="left:1871px;top:877px;background:rgba(0,0,0,.48)"></div>
<svg class="abs" style="left:0;top:0" width="1916" height="915" viewBox="0 0 1916 915">
<path d="M26 454.2 L20.6 458.6 L26 463.2" fill="none" stroke="#fff" stroke-width="1.5" stroke-linecap="round" stroke-linejoin="round"/>
<path d="M1885.2 454.2 L1890.6 458.6 L1885.2 463.2" fill="none" stroke="#fff" stroke-width="1.5" stroke-linecap="round" stroke-linejoin="round"/>
<circle cx="1884.3" cy="897" r="2.3" fill="#fff"/><circle cx="1891" cy="897" r="2.3" fill="#fff"/><circle cx="1897.7" cy="897" r="2.3" fill="#fff"/>
</svg>
<!-- logo -->
<div class="abs" style="left:2.2px;top:873.9px;width:41.6px;height:41.6px;border-radius:50%;background:#fff"></div>
<div class="abs" style="left:3.6px;top:875.3px;width:38.8px;height:38.8px;border-radius:50%;background:conic-gradient(#F5A64A 0deg,#F07A5A 40deg,#EE4880 75deg,#D84AA8 110deg,#A855D6 145deg,#5C8CE6 185deg,#3CC8C0 220deg,#4ED88A 250deg,#8CD85A 285deg,#C8D848 320deg,#F5A64A 360deg)"></div>
<div class="abs" style="left:7.3px;top:879px;width:31.4px;height:31.4px;border-radius:50%;background:#0A0A0A"></div>
<svg class="abs" style="left:0;top:870px" width="48" height="45" viewBox="0 870 48 45">
<path d="M27.5 885.3 A9.9 9.9 0 1 0 32.8 896.1" fill="none" stroke="#F4F2F6" stroke-width="3.7" stroke-linecap="round"/>
<circle cx="26.3" cy="895.7" r="2.5" fill="#F4F2F6"/>
</svg>
<div class="abs" id="pw" style="left:51.4px;top:876px;font-size:8px;line-height:8px;font-weight:bold;font-style:italic;color:#151515;white-space:nowrap;transform-origin:0 0;transform:scaleX(.95)">Powered by</div>
<div class="abs" id="gn" style="left:49.6px;top:883.6px;font-size:18.6px;line-height:18.6px;color:#111;white-space:nowrap;transform-origin:0 0;-webkit-text-stroke:0.35px #111;transform:scaleX(1.14)">genially</div>
<div class="abs" style="left:62.9px;top:904px;width:45.8px;height:9.8px;border-radius:2px;background:#5B2EEA"></div>
<div class="abs" id="ed" style="left:65.4px;top:905.4px;font-size:6.5px;line-height:6.5px;font-weight:bold;color:#EFE3FF;white-space:nowrap;transform-origin:0 0;transform:scaleX(1.07)">EDUCATION</div>
</body></html>
